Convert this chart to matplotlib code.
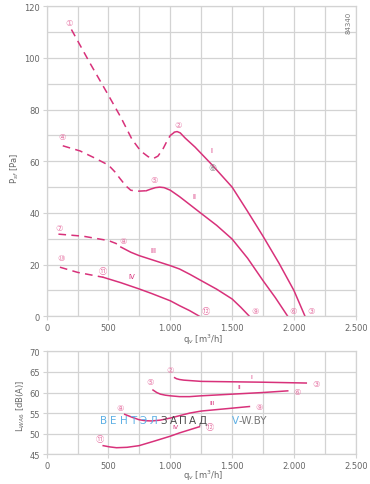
import matplotlib
matplotlib.use("Agg")
import matplotlib.pyplot as plt
from matplotlib.ticker import MultipleLocator, FuncFormatter

plt.rcParams['font.family'] = ['DejaVu Sans', 'Noto Sans CJK JP']

# --- pressure curves (top chart) ---
c1_dash_q = [200, 350, 500, 600, 690, 760, 820, 860, 900, 940, 975, 1000, 1035]
c1_dash_p = [111, 98, 85.5, 77, 68.5, 64, 61.8, 61, 62, 64.7, 68, 70, 71.3]
c1_q = [1035, 1055, 1080, 1120, 1200, 1340, 1500, 1620, 1750, 1880, 2000, 2090]
c1_p = [71.3, 71.5, 71, 69, 65.5, 58.5, 50, 41, 31, 20.5, 10, 0]

c2_dash_q = [130, 270, 400, 500, 550, 590, 640, 680, 730, 806]
c2_dash_p = [66, 64, 61, 58.5, 56, 53.5, 50.5, 48.8, 48.4, 48.6]
c2_q = [806, 840, 880, 914, 950, 1000, 1075, 1156, 1250, 1375, 1500, 1625, 1750, 1850, 1950]
c2_p = [48.6, 49.2, 49.8, 50, 49.8, 48.8, 46.3, 43.3, 39.8, 35.2, 29.9, 22.5, 13.8, 7.2, 0]

c3_dash_q = [95, 295, 500, 560, 600]
c3_dash_p = [31.8, 31, 29.3, 28.2, 26.8]
c3_q = [600, 620, 680, 747, 870, 1000, 1075, 1160, 1250, 1375, 1500, 1570, 1640]
c3_p = [26.8, 26.3, 24.8, 23.5, 21.6, 19.6, 18.3, 16.2, 13.8, 10.5, 6.7, 3.5, 0]

c4_dash_q = [107, 250, 457]
c4_dash_p = [19, 17, 15.1]
c4_q = [457, 600, 747, 850, 1000, 1075, 1156, 1236]
c4_p = [15.1, 13, 10.6, 8.8, 6, 4.1, 2.2, 0]

# --- sound level curves (bottom chart) ---
s1_q = [1035, 1050, 1075, 1110, 1156, 1250, 1500, 1750, 2100]
s1_l = [63.6, 63.35, 63.15, 63.0, 62.9, 62.7, 62.6, 62.5, 62.3]
s2_q = [860, 890, 920, 960, 1000, 1075, 1156, 1250, 1500, 1750, 1950]
s2_l = [60.6, 60.0, 59.6, 59.35, 59.2, 59.0, 59.0, 59.2, 59.6, 60.0, 60.4]
s3_q = [631, 690, 747, 800, 850, 920, 1000, 1156, 1250, 1500, 1640]
s3_l = [54.7, 54.0, 53.4, 53.15, 53.1, 53.3, 53.8, 55.0, 55.5, 56.2, 56.6]
s4_q = [457, 510, 565, 650, 747, 870, 1000, 1075, 1236]
s4_l = [47.1, 46.8, 46.6, 46.7, 47.1, 48.2, 49.4, 50.2, 51.7]

# point markers: (label, q, value)
top_points = [("①", 179, 113.9), ("②", 1065, 74.4), ("③", 2142, 2.2),
              ("④", 123, 69.7), ("⑤", 873, 52.9), ("⑥", 1997, 2.2),
              ("⑦", 102, 34.4), ("⑧", 618, 29.3), ("⑨", 1688, 2.2),
              ("⑩", 113, 22.7), ("⑪", 457, 17.6), ("⑫", 1285, 2.2)]
bottom_points = [("②", 1000, 65.5), ("③", 2177, 62.3), ("⑤", 833, 62.6),
                 ("⑥", 2029, 60.3), ("⑧", 597, 56.4), ("⑨", 1720, 56.6),
                 ("⑪", 430, 48.9), ("⑫", 1317, 51.7)]
top_roman = [("I", 1336, 64.4), ("II", 1196, 46.7), ("III", 860, 25.8), ("IV", 685, 15.5)]
bottom_roman = [("I", 1653, 63.9), ("II", 1559, 61.4), ("III", 1336, 57.5), ("IV", 1040, 51.8)]

pink = '#d8317a'
pink_light = '#e77aa8'
grid_c = '#d3d3d3'
txt_c = '#666666'


def thousands(v, pos):
    return f"{int(v):,}".replace(",", ".")


def style_axes(ax, ymin, ymax, ymajor, yminor):
    ax.set_xlim(0, 2500)
    ax.set_ylim(ymin, ymax)
    ax.xaxis.set_major_locator(MultipleLocator(500))
    ax.xaxis.set_minor_locator(MultipleLocator(250))
    ax.yaxis.set_major_locator(MultipleLocator(ymajor))
    ax.yaxis.set_minor_locator(MultipleLocator(yminor))
    ax.xaxis.set_major_formatter(FuncFormatter(thousands))
    ax.grid(which='both', color=grid_c, linewidth=0.9)
    ax.set_axisbelow(True)
    for s in ax.spines.values():
        s.set_color(grid_c)
        s.set_linewidth(0.9)
    ax.tick_params(which='major', length=3, width=0.8, color=grid_c,
                   labelsize=6, labelcolor=txt_c, pad=2)
    ax.tick_params(which='minor', length=0)


fig = plt.figure(figsize=(3.7, 4.85), dpi=100)
ax1 = fig.add_axes([0.1262, 0.3458, 0.8352, 0.6392])
ax2 = fig.add_axes([0.1262, 0.0612, 0.8352, 0.2124])

style_axes(ax1, 0, 120, 20, 10)
style_axes(ax2, 45, 70, 5, 5)

dash = dict(color=pink, lw=1.1, linestyle=(0, (5, 3.5)))
solid = dict(color=pink, lw=1.1)
ax1.plot(c1_dash_q, c1_dash_p, **dash)
ax1.plot(c1_q, c1_p, **solid)
ax1.plot(c2_dash_q, c2_dash_p, **dash)
ax1.plot(c2_q, c2_p, **solid)
ax1.plot(c3_dash_q, c3_dash_p, **dash)
ax1.plot(c3_q, c3_p, **solid)
ax1.plot(c4_dash_q, c4_dash_p, **dash)
ax1.plot(c4_q, c4_p, **solid)

ax2.plot(s1_q, s1_l, **solid)
ax2.plot(s2_q, s2_l, **solid)
ax2.plot(s3_q, s3_l, **solid)
ax2.plot(s4_q, s4_l, **solid)

for lab, q, v in top_points:
    ax1.text(q, v, lab, color=pink_light, fontsize=6, ha='center', va='center')
for lab, q, v in bottom_points:
    ax2.text(q, v, lab, color=pink_light, fontsize=6, ha='center', va='center')
for lab, q, v in top_roman:
    ax1.text(q, v, lab, color=pink, fontsize=5, ha='center', va='center')
for lab, q, v in bottom_roman:
    ax2.text(q, v, lab, color=pink, fontsize=4.5, ha='center', va='center')

# operating point on curve I
ax1.text(1343, 57.5, "⑥", color='#888888', fontsize=6.5, ha='center', va='center')

ax1.text(0.985, 0.985, "84340", transform=ax1.transAxes, rotation=90,
         fontsize=5, color='#777777', ha='right', va='top')

# watermark
letters = "ВЕНТЭЛЗАПАД"
for i, ch in enumerate(letters):
    col = '#5eb0e5' if i < 6 else '#4a4a4a'
    ax2.text(462 + i * 80, 53.4, ch, color=col, fontsize=7.5, ha='center', va='center')
ax2.text(1500, 53.4, "V", color='#5eb0e5', fontsize=7.5, ha='left', va='center')
ax2.text(1550, 53.4, "-W.BY", color='#777777', fontsize=7.5, ha='left', va='center')

fig.text(15 / 370, 1 - 168 / 485, "P$_{sf}$ [Pa]", rotation=90, fontsize=6,
         color=txt_c, ha='center', va='center')
fig.text(21 / 370, 1 - 406 / 485, "L$_{WA6}$ [dB(A)]", rotation=90, fontsize=6,
         color=txt_c, ha='center', va='center')
fig.text(203 / 370, 1 - 340 / 485, "q$_v$ [m$^3$/h]", fontsize=6,
         color=txt_c, ha='center', va='center')
fig.text(203 / 370, 1 - 476 / 485, "q$_v$ [m$^3$/h]", fontsize=6,
         color=txt_c, ha='center', va='center')

fig.savefig("out.png", dpi=100)
